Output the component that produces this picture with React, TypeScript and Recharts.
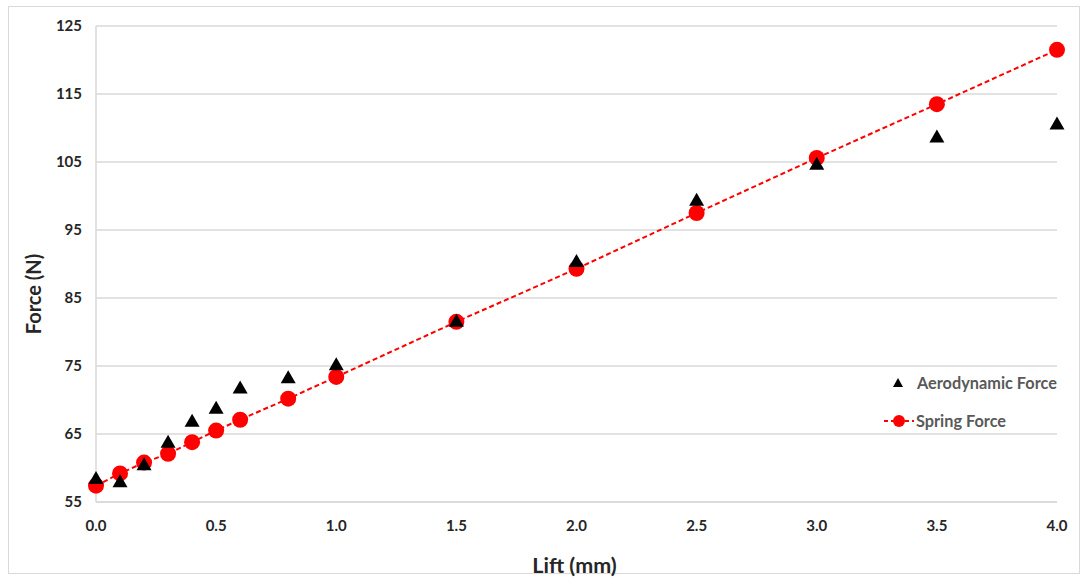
import { ScatterChart, Scatter, XAxis, YAxis, CartesianGrid, Legend } from "recharts";

const lift = [0, 0.1, 0.2, 0.3, 0.4, 0.5, 0.6, 0.8, 1.0, 1.5, 2.0, 2.5, 3.0, 3.5, 4.0];
const aeroForce = [58.3, 57.8, 60.3, 63.6, 66.7, 68.6, 71.6, 73.1, 75.0, 81.4, 90.2, 99.2, 104.5, 108.5, 110.4];
const springForce = [57.4, 59.2, 60.8, 62.1, 63.8, 65.5, 67.1, 70.2, 73.4, 81.5, 89.3, 97.5, 105.6, 113.5, 121.5];
const xTicks = [0, 0.5, 1.0, 1.5, 2.0, 2.5, 3.0, 3.5, 4.0];
const yTicks = [55, 65, 75, 85, 95, 105, 115, 125];

const aeroData = lift.map((x, i) => ({ x, y: aeroForce[i] }));
const springData = lift.map((x, i) => ({ x, y: springForce[i] }));

const FONT = "Lato, 'Open Sans', sans-serif";

const Dot = (p: any) => <circle cx={p.cx} cy={p.cy} r={8} fill="#ff0000" />;

const Tri = (p: any) => {
  const h = 13;
  const w = 15;
  return (
    <polygon
      points={`${p.cx},${p.cy - (2 * h) / 3} ${p.cx + w / 2},${p.cy + h / 3} ${p.cx - w / 2},${p.cy + h / 3}`}
      fill="#000"
    />
  );
};

function LegendBox() {
  return (
    <svg width={190} height={70} style={{ overflow: "visible", display: "block" }}>
      <polygon points="18,8 23,17 13,17" fill="#000" />
      <text x={37} y={19} fontFamily={FONT} fontWeight={700} fontSize={16.3} fill="#595959">
        Aerodynamic Force
      </text>
      <line x1={4} y1={51} x2={34} y2={51} stroke="#ff0000" strokeWidth={2} strokeDasharray="4 3" />
      <circle cx={19} cy={51} r={6} fill="#ff0000" />
      <text x={36} y={57} fontFamily={FONT} fontWeight={700} fontSize={16.3} fill="#595959">
        Spring Force
      </text>
    </svg>
  );
}

export default function App() {
  return (
    <div style={{ position: "absolute", left: 0, top: 0, width: 1088, height: 580, background: "#fff" }}>
      <div
        style={{
          position: "absolute",
          left: 8,
          top: 6,
          width: 1072,
          height: 568,
          border: "1px solid #d9d9d9",
          boxSizing: "border-box",
        }}
      />
      <div style={{ position: "absolute", left: 0, top: 0 }}>
        <ScatterChart width={1088} height={580} margin={{ top: 26, right: 31, bottom: 28, left: 36 }}>
          <CartesianGrid horizontal vertical={false} stroke="#d9d9d9" strokeWidth={1.5} />
          <XAxis
            type="number"
            dataKey="x"
            domain={[0, 4]}
            ticks={xTicks}
            tickFormatter={(v: number) => v.toFixed(1)}
            height={50}
            tickLine={false}
            tickSize={0}
            tickMargin={18}
            axisLine={{ stroke: "#d9d9d9", strokeWidth: 1.5 }}
            tick={{ fontFamily: FONT, fontWeight: 700, fontSize: 15, fill: "#262626" }}
            label={{
              content: ({ viewBox }: any) => (
                <text
                  x={viewBox.x + viewBox.width / 2 - 2}
                  y={viewBox.y + viewBox.height + 21}
                  textAnchor="middle"
                  fontFamily={FONT}
                  fontWeight={700}
                  fontSize={21.5}
                  fill="#262626"
                >
                  Lift (mm)
                </text>
              ),
            }}
          />
          <YAxis
            type="number"
            dataKey="y"
            domain={[55, 125]}
            ticks={yTicks}
            width={60}
            tickLine={false}
            tickSize={0}
            tickMargin={14}
            axisLine={{ stroke: "#d9d9d9", strokeWidth: 1.5 }}
            tick={{ fontFamily: FONT, fontWeight: 700, fontSize: 15, fill: "#262626" }}
            label={{
              content: ({ viewBox }: any) => {
                const cx = viewBox.x - 3;
                const cy = viewBox.y + viewBox.height / 2 + 30;
                return (
                  <text
                    x={cx}
                    y={cy}
                    transform={`rotate(-90, ${cx}, ${cy})`}
                    textAnchor="middle"
                    dominantBaseline="central"
                    fontFamily={FONT}
                    fontWeight={700}
                    fontSize={20}
                    fill="#262626"
                  >
                    Force (N)
                  </text>
                );
              },
            }}
          />
          <Legend
            layout="horizontal"
            verticalAlign="middle"
            align="center"
            content={() => <LegendBox />}
            wrapperStyle={{ position: "absolute", left: 880, top: 370, width: 190, height: 70 }}
          />
          <Scatter
            name="Spring Force"
            data={springData}
            fill="#ff0000"
            shape={Dot}
            line={{ stroke: "#ff0000", strokeWidth: 2, strokeDasharray: "5 3" }}
            lineType="joint"
            isAnimationActive={false}
          />
          <Scatter
            name="Aerodynamic Force"
            data={aeroData}
            fill="#000000"
            shape={Tri}
            isAnimationActive={false}
          />
        </ScatterChart>
      </div>
    </div>
  );
}
